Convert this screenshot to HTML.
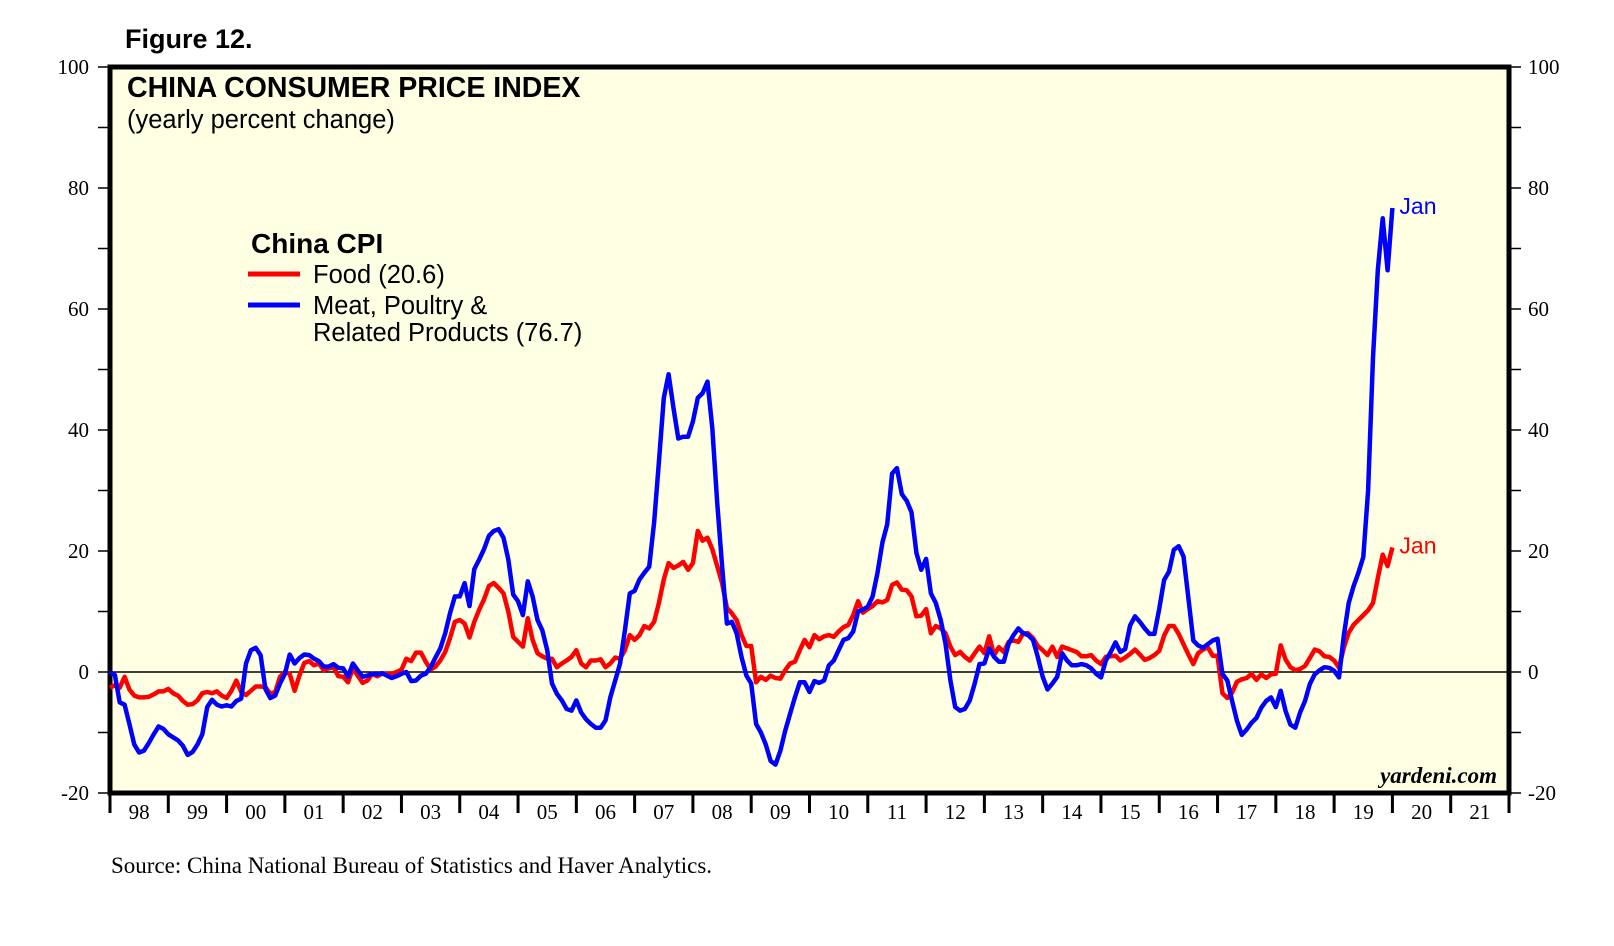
<!DOCTYPE html>
<html><head><meta charset="utf-8"><style>
html,body{margin:0;padding:0;background:#fff;}
svg{display:block;}
</style></head><body>
<svg id="chart" width="1614" height="946" viewBox="0 0 1614 946" xmlns="http://www.w3.org/2000/svg">
<text x="125" y="48" font-family="Liberation Sans, sans-serif" font-weight="bold" font-size="27">Figure 12.</text>
<rect x="110" y="67" width="1399" height="726" fill="#FFFFE3" stroke="#000" stroke-width="5"/>
<g id="yaxes"></g>
<g id="xaxis"></g>
<line id="zero" stroke="#000" stroke-width="1.5"/>
<g id="series"></g>
<text x="127" y="97" font-family="Liberation Sans, sans-serif" font-weight="bold" font-size="28.5">CHINA CONSUMER PRICE INDEX</text>
<text x="127" y="128" font-family="Liberation Sans, sans-serif" font-size="25.5">(yearly percent change)</text>
<g>
<text x="251" y="253" font-family="Liberation Sans, sans-serif" font-weight="bold" font-size="28">China CPI</text>
<line x1="248" y1="274" x2="300" y2="274" stroke="#FF0000" stroke-width="5"/>
<text x="313" y="283" font-family="Liberation Sans, sans-serif" font-size="25.5">Food (20.6)</text>
<line x1="248" y1="305" x2="300" y2="305" stroke="#0000FF" stroke-width="5"/>
<text x="313" y="314" font-family="Liberation Sans, sans-serif" font-size="25.5">Meat, Poultry &amp;</text>
<text x="313" y="341" font-family="Liberation Sans, sans-serif" font-size="25.5">Related Products (76.7)</text>
</g>
<text x="1497" y="783" text-anchor="end" font-family="Liberation Serif, serif" font-style="italic" font-weight="bold" font-size="23">yardeni.com</text>
<text x="111" y="873" font-family="Liberation Serif, serif" font-size="23">Source: China National Bureau of Statistics and Haver Analytics.</text>
</svg>
<script>
const yTicks = [-20, 0, 20, 40, 60, 80, 100];
const yearLabels = ["98","99","00","01","02","03","04","05","06","07","08","09","10","11","12","13","14","15","16","17","18","19","20","21"];
const food = [
-2.6,-2.2,-2.6,-0.8,-2.9,-3.9,-4.2,-4.2,-4.1,-3.7,-3.2,-3.2,
-2.8,-3.5,-3.9,-4.8,-5.4,-5.3,-4.7,-3.5,-3.3,-3.5,-3.2,-3.9,
-4.3,-3.1,-1.4,-3.3,-3.8,-3.1,-2.4,-2.4,-2.5,-3.6,-3.3,-0.8,
0,-0.3,-3.1,-0.6,1.5,1.8,1.1,1.4,0.3,0.6,0.8,-0.7,
-0.8,-1.7,0.6,-0.6,-1.8,-1.4,-0.3,-0.7,-0.3,-0.3,-0.3,0,
0.4,2.2,1.8,3.2,3.2,1.7,0.4,0.9,1.9,3.3,5.6,8.3,
8.6,8,5.7,8.3,10.3,12,14.2,14.7,13.9,13,10,5.8,
5,4.2,8.9,5.3,3.1,2.6,2.2,2.2,0.8,1.4,1.9,2.5,
3.6,1.4,0.8,1.9,1.9,2.1,0.8,1.4,2.4,2.2,3.6,6.1,
5.3,6.1,7.6,7.2,8.3,11.4,15.3,18,17.2,17.6,18.2,16.9,
18,23.3,21.7,22.2,20.3,17.5,14.7,10.6,9.7,8.6,6.1,4.3,
4.3,-1.7,-0.8,-1.3,-0.6,-1,-1.1,0.3,1.4,1.7,3.6,5.3,
4.1,6.1,5.4,5.9,6.1,5.8,6.7,7.4,7.8,9.4,11.7,9.8,
10.4,10.9,11.7,11.5,11.9,14.4,14.8,13.6,13.5,12.5,9.2,9.3,
10.4,6.4,7.6,7.2,6.4,4.2,2.8,3.3,2.5,1.9,3.1,4.2,
3.1,5.9,2.8,4.1,3.3,5,5.2,5,6.4,6.4,5.6,4.3,
3.6,2.8,4.2,2.5,4.2,3.9,3.6,3.3,2.6,2.6,2.8,1.9,
1.3,2.5,2.6,2.7,1.9,2.4,3,3.7,2.9,2,2.3,2.8,
3.5,6,7.6,7.6,6.3,4.6,2.9,1.3,3.1,3.7,4.1,2.7,
2.7,-3.5,-4.3,-3.4,-1.6,-1.2,-1,-0.3,-1.3,-0.4,-1,-0.4,
-0.3,4.4,2.1,0.8,0.3,0.5,1,2.3,3.7,3.4,2.6,2.5,
1.9,0.7,4,6.5,7.8,8.6,9.4,10.2,11.4,15.5,19.4,17.5,
20.6];
const meat = [
0,-0.5,-5,-5.4,-8.6,-12,-13.3,-13,-11.7,-10.3,-9,-9.4,
-10.3,-10.8,-11.3,-12.2,-13.7,-13.2,-12,-10.3,-5.8,-4.6,-5.4,-5.7,
-5.5,-5.7,-4.8,-4.4,1.4,3.6,4,2.8,-2.8,-4.3,-3.9,-1.9,
-0.3,2.9,1.4,2.3,2.9,2.8,2.2,1.8,0.9,0.9,1.3,0.7,
0.6,-0.8,1.4,0.3,-0.8,-0.6,-0.3,-0.4,-0.2,-0.6,-1,-0.7,
-0.3,0,-1.5,-1.4,-0.6,-0.3,0.8,2.4,3.9,6.4,9.7,12.5,
12.5,14.7,10.9,17,18.6,20.3,22.5,23.3,23.6,22.2,18.6,12.8,
11.7,9.4,15,12.5,8.6,6.9,3.6,-1.9,-3.6,-4.7,-6.1,-6.4,
-4.7,-6.7,-7.8,-8.6,-9.2,-9.2,-8,-4.2,-1.4,1.4,6.9,13,
13.4,15.3,16.4,17.4,24.7,34.7,45.3,49.2,43.6,38.6,38.9,38.9,
41.4,45.3,46.1,48,40.3,28,17.5,8,8.3,6.4,2.5,-0.6,
-1.9,-8.6,-10,-12,-14.7,-15.3,-13,-9.7,-6.9,-4.2,-1.7,-1.7,
-3.3,-1.5,-1.8,-1.4,1.1,1.9,3.6,5.3,5.6,6.7,10,10.3,
10.8,12.5,16.4,21.4,24.4,32.8,33.7,29.4,28.3,26.4,19.7,16.9,
18.7,13,11.4,8.6,4.7,-1.4,-5.8,-6.4,-6.1,-4.7,-1.9,1.3,
1.4,3.9,2.5,1.7,1.7,4.7,6.1,7.2,6.4,6.1,5.3,2.5,
-0.8,-2.9,-1.9,-0.8,3.1,1.9,1.1,1.1,1.3,1.1,0.6,-0.3,
-0.9,1.9,3.3,4.9,3.3,3.8,7.7,9.2,8.3,7.2,6.3,6.3,
10.5,15.2,16.6,20.2,20.8,19.1,12.2,5.2,4.4,4,4.6,5.2,
5.5,-0.3,-1.4,-4.8,-8.1,-10.4,-9.5,-8.4,-7.6,-5.9,-4.8,-4.2,
-5.8,-3.1,-6.4,-8.7,-9.2,-6.7,-4.8,-2,-0.4,0.3,0.8,0.7,
0.2,-0.9,6,11.4,14.2,16.4,19,30,52,66.4,75,66.4,
76.7];
const endLabel = "Jan";

const NS = "http://www.w3.org/2000/svg";
const L = 110, R = 1509, T = 67, B = 793;
const yMin = -20, yMax = 100;
const startYear = 1998, endYear = 2022;
function y(v){ return B - (v - yMin) / (yMax - yMin) * (B - T); }
function xYear(yr){ return L + (yr - startYear) / (endYear - startYear) * (R - L); }
function xMonth(i){ return xYear(startYear + i / 12); }
function mk(tag, attrs, parent){ const e = document.createElementNS(NS, tag); for (const k in attrs) e.setAttribute(k, attrs[k]); parent.appendChild(e); return e; }

const ya = document.getElementById('yaxes');
for (let v = yMin; v <= yMax; v += 10) {
  const t1 = mk('line', {x1: L - 12, x2: L, y1: y(v), y2: y(v), stroke: '#000', 'stroke-width': 1.5}, ya);
  
  
  const t2 = mk('line', {x1: R, x2: R + 12, y1: y(v), y2: y(v), stroke: '#000', 'stroke-width': 1.5}, ya);
  
  
}
yTicks.forEach(v => {
  const a = mk('text', {x: 89, y: y(v) + 7, 'text-anchor': 'end', 'font-family': 'Liberation Serif, serif', 'font-size': 21}, ya);
  a.textContent = v;
  
  
  const b = mk('text', {x: 1528, y: y(v) + 7, 'font-family': 'Liberation Serif, serif', 'font-size': 21}, ya);
  b.textContent = v;
  
  
});

const xa = document.getElementById('xaxis');
for (let i = 0; i <= yearLabels.length; i++) {
  const xx = xYear(startYear + i);
  const t = mk('line', {x1: xx, x2: xx, y1: B, y2: B + 20, stroke: '#000', 'stroke-width': 3}, xa);
  
  
}
yearLabels.forEach((lab, i) => {
  const t = mk('text', {x: (xYear(startYear + i) + xYear(startYear + i + 1)) / 2, y: B + 26, 'text-anchor': 'middle', 'font-family': 'Liberation Serif, serif', 'font-size': 21}, xa);
  t.textContent = lab;
  
  
});

const z = document.getElementById('zero');
z.setAttribute('x1', L); z.setAttribute('x2', R); z.setAttribute('y1', y(0)); z.setAttribute('y2', y(0));

const sg = document.getElementById('series');
function draw(arr, color, name){
  const d = arr.map((v, i) => (i ? 'L' : 'M') + xMonth(i).toFixed(1) + ',' + y(v).toFixed(1)).join(' ');
  const p = mk('path', {d: d, fill: 'none', stroke: color, 'stroke-width': 4.5, 'stroke-linejoin': 'round'}, sg);
  
  
  const n = arr.length - 1;
  const t = mk('text', {x: xMonth(n) + 7, y: y(arr[n]) + 6, fill: color, 'font-family': 'Liberation Sans, sans-serif', 'font-size': 23}, sg);
  t.textContent = endLabel;
  
  
}
draw(food, '#FF0000', 'food-line');
draw(meat, '#0000FF', 'meat-line');
</script>
</body></html>
